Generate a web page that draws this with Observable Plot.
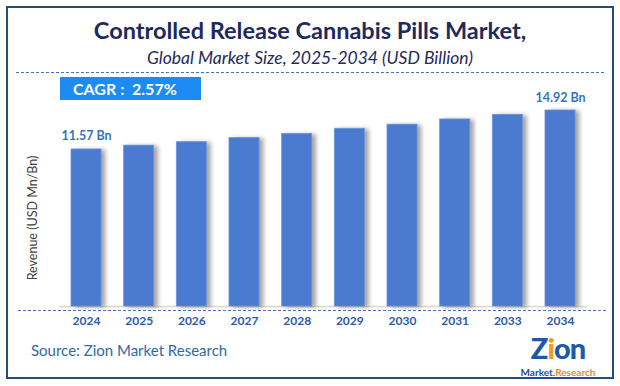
<!DOCTYPE html>
<html>
<head>
<meta charset="utf-8">
<script src="https://cdn.jsdelivr.net/npm/d3@7"></script>
<script src="https://cdn.jsdelivr.net/npm/@observablehq/plot@0.6"></script>
<style>
  html, body { margin: 0; padding: 0; background: #fff; }
  #wrap { position: relative; width: 620px; height: 386px; overflow: hidden; font-family: Lato, "Open Sans", sans-serif; }
  .abs { position: absolute; }
  #frame { left: 6px; top: 6px; width: 604px; height: 369px; border: 2px solid #1f4e79; }
  #title { left: 0; width: 620px; top: 16px; text-align: center; font-size: 23.5px; font-weight: 700; color: #1f2a5c; }
  #subtitle { left: 0; width: 620px; top: 47px; text-align: center; font-size: 17.5px; font-style: italic; color: #26285a; }
  .dash { height: 0; border-top: 1.3px dashed #4a72b8; }
  #cagr { left: 60px; top: 77px; width: 141px; height: 23px; background: #1c8cf4; color: #fff; font-weight: 700; font-size: 16px; line-height: 23px; white-space: pre; }
  #cagr span { margin-left: 13px; }
  #ylab { left: 32px; top: 218px; transform: translate(-50%, -50%) rotate(-90deg); font-size: 12.5px; color: #404040; white-space: nowrap; }
  #source { left: 31px; top: 341px; font-size: 15px; color: #2e6aa6; }
  #logo { left: 518px; top: 335px; width: 80px; height: 38px; text-align: center; }
  #logo .z { font-size: 29px; font-weight: 900; color: #1c5aa6; line-height: 25px; height: 25px; letter-spacing: -1px; }
  #logo .z b { color: #f39a1e; }
  #logo .m { font-size: 10px; font-weight: 700; color: #1c4f96; line-height: 11px; border-bottom: 1px solid #1c4f96; display: inline-block; }
  #logo .m i { font-style: normal; color: #f08a1c; }
  #chart { left: 0; top: 0; }
  #chart g[aria-label="bar"] rect { filter: drop-shadow(4px 1px 2px rgba(0,0,0,0.35)); }
</style>
</head>
<body>
<div id="wrap">
  <div id="frame" class="abs"></div>
  <div id="chart" class="abs"></div>
  <div id="title" class="abs">Controlled Release Cannabis Pills Market,</div>
  <div id="subtitle" class="abs">Global Market Size, 2025-2034 (USD Billion)</div>
  <div class="abs dash" style="left:16px; width:588px; top:72px;"></div>
  <div class="abs dash" style="left:18px; width:588px; top:310px;"></div>
  <div id="cagr" class="abs"><span>CAGR :  2.57%</span></div>
  <div id="ylab" class="abs">Revenue (USD Mn/Bn)</div>
  <div id="source" class="abs">Source: Zion Market Research</div>
  <div id="logo" class="abs"><div class="z">Z<b>i</b>on</div><div class="m">Market.<i>Research</i></div></div>
</div>
<script>
const years = ["2024", "2025", "2026", "2027", "2028", "2029", "2030", "2031", "2033", "2034"];
const values = [11.57, 11.9, 12.2, 12.55, 12.9, 13.35, 13.7, 14.15, 14.55, 14.92];
const labelledYears = ["2024", "2034"];
const unit = " Bn";

const data = years.map((year, i) => ({year, value: values[i]}));
const yMin = -1.916;

const chart = Plot.plot({
  width: 620,
  height: 386,
  marginLeft: 59,
  marginRight: 33,
  marginTop: 80,
  marginBottom: 80,
  style: {background: "transparent", fontFamily: "Lato, 'Open Sans', sans-serif", overflow: "visible"},
  x: {domain: years, range: [71, 575], paddingInner: 0.43, paddingOuter: 0, round: false, label: null},
  y: {domain: [yMin, 14.92], range: [306, 110], axis: null},
  marks: [
    Plot.ruleY([yMin], {stroke: "#d9d9d9", strokeWidth: 1.5}),
    Plot.barY(data, {x: "year", y1: yMin, y2: "value", fill: "#4a7bd0", stroke: "#6a95dc", strokeWidth: 0.8}),
    Plot.text(data.filter(d => labelledYears.includes(d.year)), {
      x: "year", y: "value", text: d => d.value.toFixed(2) + unit,
      dy: -13, fill: "#3574bd", fontSize: 12.5, fontWeight: "bold"
    }),
    Plot.axisX({tickSize: 0, tickPadding: 10, fontSize: 12, fontWeight: "bold", fill: "#2e5aa6", label: null})
  ]
});
chart.querySelectorAll('g[aria-label="x-axis tick label"] text').forEach(t => { t.setAttribute("fill", "#2e5aa6"); });
document.getElementById("chart").appendChild(chart);
</script>
</body>
</html>
